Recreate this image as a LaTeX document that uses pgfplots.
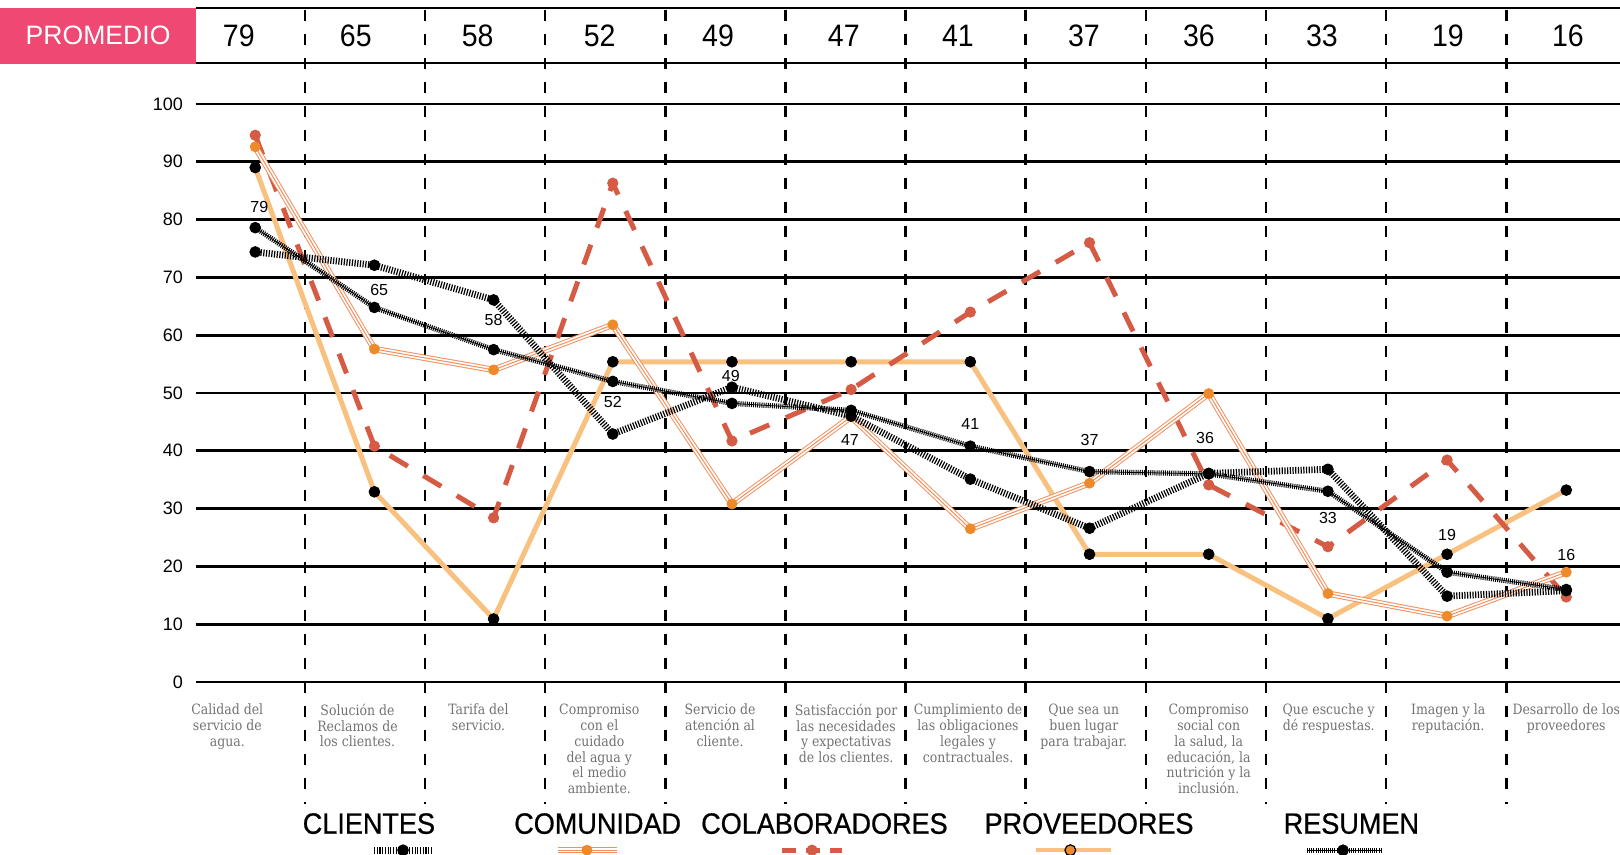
\documentclass[border=0pt]{standalone}
\usepackage{fontspec}
\setmainfont{Liberation Sans}
\newfontfamily\condfont[FakeStretch=0.92]{Liberation Sans}
\newfontfamily\grpfont[FakeStretch=0.92,FakeBold=0.7]{Liberation Sans}
\newfontfamily\slabfont[FakeStretch=0.88]{DejaVu Serif}
\usepackage{pgfplots}
\usepackage{pgfplotstable}
\pgfplotsset{compat=1.18}
\definecolor{pinkc}{HTML}{EF4872}
\definecolor{redc}{HTML}{D55B44}
\definecolor{orgm}{HTML}{EE8A2A}
\definecolor{orgl}{HTML}{F2905E}
\definecolor{lorg}{HTML}{F8C180}
\definecolor{labgray}{HTML}{727272}

\pgfplotstableread{
x y
0 74.4
1 72.1
2 66.1
3 42.9
4 51.0
5 46.0
6 35.1
7 26.6
8 36.1
9 36.8
10 14.85
11 15.8
}\clientes
\pgfplotstableread{
x y
0 92.6
1 57.6
2 54.0
3 61.8
4 30.8
5 45.9
6 26.5
7 34.4
8 49.9
9 15.3
10 11.4
11 19.0
}\comunidad
\pgfplotstableread{
x y
0 94.6
1 40.8
2 28.4
3 86.3
4 41.7
5 50.6
6 64.0
7 76.0
8 34.1
9 23.4
10 38.4
11 14.7
}\colaboradores
\pgfplotstableread{
x y
0 89.0
1 32.9
2 10.9
3 55.4
4 55.4
5 55.4
6 55.4
7 22.1
8 22.1
9 10.95
10 22.1
11 33.2
}\proveedores
\pgfplotstableread{
x y
0 78.6
1 64.8
2 57.5
3 52.0
4 48.2
5 47.0
6 40.8
7 36.4
8 36.0
9 33.0
10 19.0
11 16.0
}\resumen

\begin{document}
\begin{tikzpicture}
\useasboundingbox (-98pt,-86.5pt) rectangle (712pt,341pt);
\begin{axis}[
  at={(0,0)}, anchor=south west,
  scale only axis, width=712pt, height=289pt,
  xmin=-0.497, xmax=11.451, ymin=0, ymax=100,
  clip=false,
  axis line style={draw=none},
  xtick=\empty,
  ytick={0,10,...,100},
  major tick length=0pt,
  ymajorgrids,
  grid style={black, line width=1.4pt},
  yticklabel style={font=\fontsize{9}{10}\selectfont, xshift=-3pt},
  /pgf/number format/assume math mode=true,
  every axis plot/.append style={line join=round},
]
% header
\fill[pinkc] (axis cs:-2.2,116.6) rectangle (axis cs:-0.497,107.0);
\draw[line width=1.4pt] (axis cs:-0.497,116.6) -- (axis cs:11.451,116.6);
\draw[line width=1.4pt] (axis cs:-0.497,107.1) -- (axis cs:11.451,107.1);
\node[font=\fontsize{13.3}{14}\selectfont, text=white] at (axis cs:-1.319,111.85) {PROMEDIO};
\tikzset{hdr/.style={font=\condfont\fontsize{15.5}{16}\selectfont}}
\node[hdr] at (axis cs:-0.138,111.85) {79};
\node[hdr] at (axis cs:0.844,111.85) {65};
\node[hdr] at (axis cs:1.867,111.85) {58};
\node[hdr] at (axis cs:2.890,111.85) {52};
\node[hdr] at (axis cs:3.883,111.85) {49};
\node[hdr] at (axis cs:4.938,111.85) {47};
\node[hdr] at (axis cs:5.896,111.85) {41};
\node[hdr] at (axis cs:6.953,111.85) {37};
\node[hdr] at (axis cs:7.918,111.85) {36};
\node[hdr] at (axis cs:8.950,111.85) {33};
\node[hdr] at (axis cs:10.007,111.85) {19};
\node[hdr] at (axis cs:11.014,111.85) {16};
% dashed separators
\tikzset{sep/.style={black, line width=1.3pt, dash pattern=on 5.5pt off 6.5pt}}
\draw[sep] (axis cs:0.416,116.3) -- (axis cs:0.416,-21.1);
\draw[sep] (axis cs:1.424,116.3) -- (axis cs:1.424,-21.1);
\draw[sep] (axis cs:2.432,116.3) -- (axis cs:2.432,-21.1);
\draw[sep] (axis cs:3.440,116.3) -- (axis cs:3.440,-21.1);
\draw[sep] (axis cs:4.449,116.3) -- (axis cs:4.449,-21.1);
\draw[sep] (axis cs:5.457,116.3) -- (axis cs:5.457,-21.1);
\draw[sep] (axis cs:6.465,116.3) -- (axis cs:6.465,-21.1);
\draw[sep] (axis cs:7.473,116.3) -- (axis cs:7.473,-21.1);
\draw[sep] (axis cs:8.481,116.3) -- (axis cs:8.481,-21.1);
\draw[sep] (axis cs:9.489,116.3) -- (axis cs:9.489,-21.1);
\draw[sep] (axis cs:10.497,116.3) -- (axis cs:10.497,-21.1);

% lines
\addplot[lorg, line width=2.5pt, no markers] table[x=x,y=y] {\proveedores};
\addplot[redc, line width=2.5pt, dash pattern=on 10.5pt off 9pt, no markers] table[x=x,y=y] {\colaboradores};
\addplot[orgl, line width=3.2pt, no markers] table[x=x,y=y] {\comunidad};
\addplot[white, line width=2.2pt, no markers] table[x=x,y=y] {\comunidad};
\addplot[orgl, line width=0.5pt, no markers] table[x=x,y=y] {\comunidad};
\addplot[black, line width=3.4pt, dash pattern=on 0.6pt off 0.75pt, no markers] table[x=x,y=y] {\clientes};
\addplot[black, line width=2.6pt, dash pattern=on 0.5pt off 0.55pt, no markers] table[x=x,y=y] {\resumen};
\addplot[black, line width=0.4pt, no markers] table[x=x,y=y] {\resumen};
% markers
\addplot[only marks, mark=*, mark size=2.7pt, black] table[x=x,y=y] {\proveedores};
\addplot[only marks, mark=*, mark size=2.6pt, redc, mark options={fill=redc,draw=redc}] table[x=x,y=y] {\colaboradores};
\addplot[only marks, mark=*, mark size=2.5pt, orgm, mark options={fill=orgm,draw=orgm}] table[x=x,y=y] {\comunidad};
\addplot[only marks, mark=*, mark size=2.7pt, black] table[x=x,y=y] {\clientes};
\addplot[only marks, mark=*, mark size=2.7pt, black] table[x=x,y=y] {\resumen};

% value labels
\tikzset{vl/.style={font=\fontsize{8}{9}\selectfont}}
\node[vl] at (axis cs:0.034,82.2) {79};
\node[vl] at (axis cs:1.04,67.9) {65};
\node[vl] at (axis cs:2.0,62.6) {58};
\node[vl] at (axis cs:3.0,48.5) {52};
\node[vl] at (axis cs:3.99,52.9) {49};
\node[vl] at (axis cs:4.99,41.8) {47};
\node[vl] at (axis cs:6.0,44.7) {41};
\node[vl] at (axis cs:7.0,41.8) {37};
\node[vl] at (axis cs:7.97,42.2) {36};
\node[vl] at (axis cs:9.0,28.4) {33};
\node[vl] at (axis cs:10.0,25.4) {19};
\node[vl] at (axis cs:11.0,22.0) {16};

% category labels
\tikzset{cl/.style={font=\slabfont\fontsize{7.1}{7.95}\selectfont, text=labgray, align=center, anchor=north, inner sep=0pt}}
\node[cl] at (axis cs:-0.234,-3.7) {Calidad del\\servicio de\\agua.};
\node[cl] at (axis cs:0.858,-3.7) {Solución de\\Reclamos de\\los clientes.};
\node[cl] at (axis cs:1.873,-3.7) {Tarifa del\\servicio.};
\node[cl] at (axis cs:2.887,-3.7) {Compromiso\\con el\\cuidado\\del agua y\\el medio\\ambiente.};
\node[cl] at (axis cs:3.900,-3.7) {Servicio de\\atención al\\cliente.};
\node[cl] at (axis cs:4.958,-3.7) {Satisfacción por\\las necesidades\\y expectativas\\de los clientes.};
\node[cl] at (axis cs:5.981,-3.7) {Cumplimiento de\\las obligaciones\\legales y\\contractuales.};
\node[cl] at (axis cs:6.952,-3.7) {Que sea un\\buen lugar\\para trabajar.};
\node[cl] at (axis cs:8.0,-3.7) {Compromiso\\social con\\la salud, la\\educación, la\\nutrición y la\\inclusión.};
\node[cl] at (axis cs:9.007,-3.7) {Que escuche y\\dé respuestas.};
\node[cl] at (axis cs:10.009,-3.7) {Imagen y la\\reputación.};
\node[cl] at (axis cs:11.0,-3.7) {Desarrollo de los\\proveedores};

% group names
\tikzset{gn/.style={font=\grpfont\fontsize{14.7}{16}\selectfont}}
\node[gn] at (axis cs:0.954,-24.5) {CLIENTES};
\node[gn] at (axis cs:2.873,-24.5) {COMUNIDAD};
\node[gn] at (axis cs:4.776,-24.5) {COLABORADORES};
\node[gn] at (axis cs:6.996,-24.5) {PROVEEDORES};
\node[gn] at (axis cs:9.197,-24.5) {RESUMEN};

% legend samples
\addplot[black, line width=3.4pt, dash pattern=on 0.6pt off 0.75pt, no markers] coordinates {(0.997,-29.1) (1.483,-29.1)};
\addplot[only marks, mark=*, mark size=2.7pt, black] coordinates {(1.240,-29.1)};
\addplot[orgl, line width=3.2pt, no markers] coordinates {(2.540,-29.1) (3.035,-29.1)};
\addplot[white, line width=2.2pt, no markers] coordinates {(2.540,-29.1) (3.035,-29.1)};
\addplot[orgl, line width=0.5pt, no markers] coordinates {(2.540,-29.1) (3.035,-29.1)};
\addplot[only marks, mark=*, mark size=2.5pt, orgm, mark options={fill=orgm,draw=orgm}] coordinates {(2.783,-29.1)};
\addplot[redc, line width=2.5pt, dash pattern=on 7pt off 5pt, no markers] coordinates {(4.420,-29.1) (4.923,-29.1)};
\addplot[only marks, mark=*, mark size=2.6pt, redc, mark options={fill=redc,draw=redc}] coordinates {(4.672,-29.1)};
\addplot[lorg, line width=1.8pt, no markers] coordinates {(6.551,-29.1) (7.180,-29.1)};
\addplot[only marks, mark=*, mark size=2.7pt, mark options={fill=orgm,draw=black,line width=0.6pt}] coordinates {(6.839,-29.1)};
\addplot[black, line width=2.6pt, dash pattern=on 0.5pt off 0.55pt, no markers] coordinates {(8.826,-29.1) (9.455,-29.1)};
\addplot[black, line width=0.4pt, no markers] coordinates {(8.826,-29.1) (9.455,-29.1)};
\addplot[only marks, mark=*, mark size=2.7pt, black] coordinates {(9.127,-29.1)};
\end{axis}
\end{tikzpicture}
\end{document}
